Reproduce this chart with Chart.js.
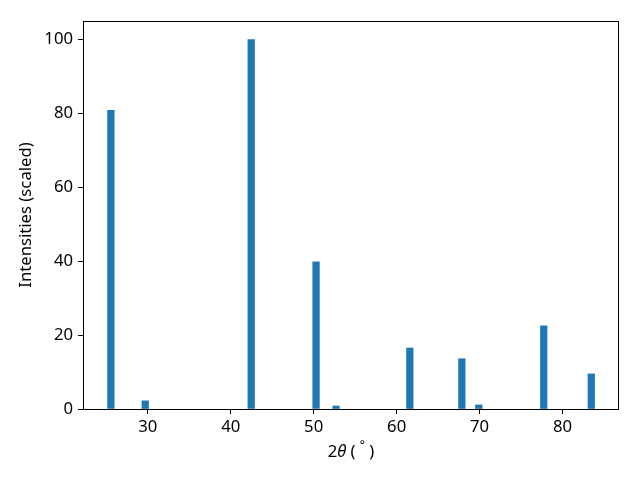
<!DOCTYPE html>
<html>
<head>
<meta charset="utf-8">
<script src="https://cdn.jsdelivr.net/npm/chart.js@4"></script>
<style>
html,body{margin:0;padding:0;background:#fff;}
#wrap{width:640px;height:480px;}
</style>
</head>
<body>
<div id="wrap"><canvas id="c" width="640" height="480"></canvas></div>
<script>
const twoTheta = [25.56, 29.70, 42.47, 50.29, 52.70, 61.59, 67.86, 69.90, 77.73, 83.46];
const intensities = [80.8, 2.2, 100, 39.8, 0.8, 16.5, 13.6, 1.1, 22.5, 9.5];
const xTicks = [30, 40, 50, 60, 70, 80];
const yTicks = [0, 20, 40, 60, 80, 100];
const xLabelParts = ["2", "θ", " (", "°", ")"];
const yLabel = "Intensities (scaled)";

const FONT = "'Noto Sans', sans-serif";
const FS = 16.7;

const framePlugin = {
  id: 'frame',
  afterDraw(chart) {
    const a = chart.chartArea, ctx = chart.ctx;
    ctx.save();
    ctx.strokeStyle = '#000';
    ctx.lineWidth = 1;
    ctx.strokeRect(Math.round(a.left) + 0.5, Math.round(a.top) + 0.5,
                   Math.round(a.right - a.left) - 1, Math.round(a.bottom - a.top));
    // x axis title with italic theta and raised degree sign
    const fonts = [
      FS + "px " + FONT,
      "italic " + FS + "px " + FONT,
      FS + "px " + FONT,
      Math.round(FS * 0.7) + "px " + FONT,
      FS + "px " + FONT
    ];
    const dy = [0, 0, 0, -6, 0];
    const texts = [xLabelParts[0], xLabelParts[1], xLabelParts[2] + " ", xLabelParts[3], " " + xLabelParts[4]];
    let widths = texts.map((t, i) => { ctx.font = fonts[i]; return ctx.measureText(t).width; });
    let total = widths.reduce((p, q) => p + q, 0);
    let x = (a.left + a.right) / 2 - total / 2;
    const y = 452;
    ctx.fillStyle = '#000';
    ctx.textBaseline = 'middle';
    ctx.textAlign = 'left';
    texts.forEach((t, i) => { ctx.font = fonts[i]; ctx.fillText(t, x, y + dy[i]); x += widths[i]; });
    ctx.restore();
  }
};

new Chart(document.getElementById('c'), {
  type: 'bar',
  data: {
    datasets: [{
      data: twoTheta.map((x, i) => ({x: x, y: intensities[i]})),
      backgroundColor: '#1f77b4',
      borderWidth: 0,
      barThickness: 6.6
    }]
  },
  options: {
    responsive: false,
    animation: false,
    layout: {padding: {top: 21, right: 21, left: 0, bottom: 0}},
    plugins: {legend: {display: false}, tooltip: {enabled: false}},
    scales: {
      x: {
        type: 'linear',
        offset: false,
        min: 22.2, max: 86.8,
        afterBuildTicks: s => { s.ticks = xTicks.map(v => ({value: v})); },
        afterFit: s => { s.height = 71; },
        grid: {drawOnChartArea: false, offset: false, tickLength: 5, tickColor: '#000', tickWidth: 1},
        border: {display: false},
        ticks: {color: '#000', font: {family: FONT, size: FS}, padding: 3, maxRotation: 0},
        title: {display: false}
      },
      y: {
        min: 0, max: 105,
        afterBuildTicks: s => { s.ticks = yTicks.map(v => ({value: v})); },
        afterFit: s => { s.width = 83; },
        grid: {drawOnChartArea: false, tickLength: 5, tickColor: '#000', tickWidth: 1},
        border: {display: false},
        ticks: {color: '#000', font: {family: FONT, size: FS}, padding: 5},
        title: {display: true, text: yLabel, color: '#000', font: {family: FONT, size: FS}, padding: {top: 16, bottom: 0}}
      }
    }
  },
  plugins: [framePlugin]
});
</script>
</body>
</html>
